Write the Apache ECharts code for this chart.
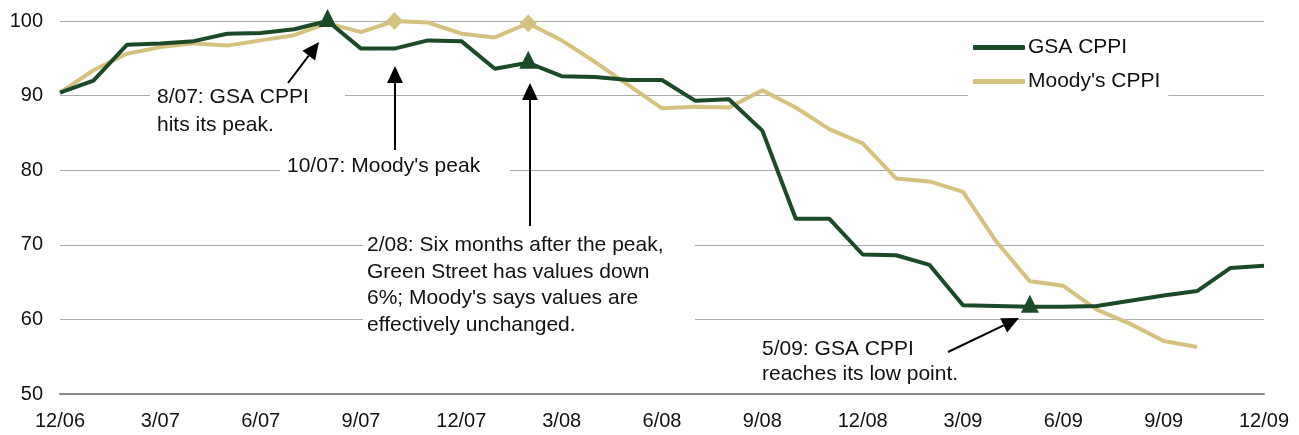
<!DOCTYPE html>
<html>
<head>
<meta charset="utf-8">
<script src="https://cdn.jsdelivr.net/npm/echarts@6/dist/echarts.min.js"></script>
<style>
html,body{margin:0;padding:0;background:#fff;}
#c{width:1299px;height:435px;}
</style>
</head>
<body>
<div id="c"></div>
<script>
const months = ['12/06','1/07','2/07','3/07','4/07','5/07','6/07','7/07','8/07','9/07','10/07','11/07',
  '12/07','1/08','2/08','3/08','4/08','5/08','6/08','7/08','8/08','9/08','10/08','11/08',
  '12/08','1/09','2/09','3/09','4/09','5/09','6/09','7/09','8/09','9/09','10/09','11/09','12/09'];
const gsaCPPI = [90.4,92.0,96.8,97.0,97.3,98.3,98.4,98.9,100.0,96.3,96.3,97.4,
  97.3,93.6,94.4,92.6,92.5,92.1,92.1,89.3,89.5,85.3,73.5,73.5,
  68.7,68.6,67.3,61.9,61.8,61.7,61.7,61.8,62.5,63.2,63.8,66.9,67.2];
const moodysCPPI = [90.4,93.4,95.6,96.5,97.0,96.7,97.4,98.1,99.7,98.5,100.0,99.8,
  98.3,97.8,99.7,97.4,94.5,91.4,88.3,88.5,88.4,90.7,88.4,85.5,
  83.6,78.9,78.5,77.1,70.4,65.1,64.5,61.3,59.4,57.1,56.3,null,null];
const yTicks = {min:50, max:100, interval:10};
const gsaMarks = [8, 14, 29];     // month indexes with triangle markers
const moodysMarks = [10, 14];     // month indexes with diamond markers

const GREEN = '#1b4a29';
const TAN = '#d6c27f';
const FONT = 'Liberation Sans, Arial, sans-serif';

const chart = echarts.init(document.getElementById('c'));

function arrow(x1,y1,x2,y2){
  const ang = Math.atan2(y2-y1, x2-x1);
  const L = 17, W = 8;
  const bx = x2 - L*Math.cos(ang), by = y2 - L*Math.sin(ang);
  const px = -Math.sin(ang), py = Math.cos(ang);
  return [
    {type:'line', z:5, shape:{x1:x1,y1:y1,x2:bx,y2:by}, style:{stroke:'#000', lineWidth:2}},
    {type:'polygon', z:5, shape:{points:[[x2,y2],[bx+px*W,by+py*W],[bx-px*W,by-py*W]]}, style:{fill:'#000'}}
  ];
}
function box(x,y,w,h){
  return {type:'rect', z:1, shape:{x:x,y:y,width:w,height:h}, style:{fill:'#fff'}};
}
function txt(x,y,s,lh){
  return {type:'text', z:5, x:x, y:y, style:{text:s, font:'21px '+FONT, fill:'#111', lineHeight:lh}};
}

const graphics = [].concat(
  [box(150,84,195,58), box(280,154,230,26), box(363,232,332,106)],
  [txt(157,83,'8/07: GSA CPPI\nhits its peak.',28)],
  [txt(287,152,"10/07: Moody's peak",28)],
  [txt(367,232,"2/08: Six months after the peak,\nGreen Street has values down\n6%; Moody's says values are\neffectively unchanged.",26.5)],
  [txt(762,337,"5/09: GSA CPPI\nreaches its low point.",25)],
  arrow(288,83,319,42),
  arrow(395,150,395,66),
  arrow(530,226,530,83),
  arrow(948,352,1019,318)
);

chart.setOption({
  animation:false,
  backgroundColor:'#fff',
  textStyle:{fontFamily:FONT},
  grid:{left:60, right:35, top:21, bottom:41, containLabel:false},
  legend:{
    orient:'vertical', left:968, top:31,
    padding:[6,8,6,5], backgroundColor:'#fff',
    itemWidth:52, itemHeight:5, itemGap:13, icon:'roundRect',
    textStyle:{fontSize:21, color:'#111', fontFamily:FONT, padding:[0,0,0,-2]},
    data:['GSA CPPI',"Moody's CPPI"], z:4
  },
  xAxis:{
    type:'category', data:months, boundaryGap:false,
    axisLine:{lineStyle:{color:'#888', width:2}},
    axisTick:{show:false},
    axisLabel:{interval:2, fontSize:20, color:'#111', margin:17, fontFamily:FONT},
    splitLine:{show:false}
  },
  yAxis:{
    type:'value', min:yTicks.min, max:yTicks.max, interval:yTicks.interval,
    axisLine:{show:false}, axisTick:{show:false},
    axisLabel:{fontSize:20, color:'#111', margin:17, fontFamily:FONT},
    splitLine:{lineStyle:{color:'#aaa', width:1}}
  },
  series:[
    {name:"Moody's CPPI", type:'line', data:moodysCPPI, symbol:'none', z:2,
     lineStyle:{color:TAN, width:4}, itemStyle:{color:TAN},
     markPoint:{symbol:'diamond', symbolSize:[17,18], itemStyle:{color:TAN}, label:{show:false},
       data: moodysMarks.map(i=>({coord:[months[i], moodysCPPI[i]]}))}},
    {name:'GSA CPPI', type:'line', data:gsaCPPI, symbol:'none', z:3,
     lineStyle:{color:GREEN, width:4}, itemStyle:{color:GREEN},
     markPoint:{symbol:'triangle', symbolSize:[18,18], symbolOffset:[0,-3], itemStyle:{color:GREEN}, label:{show:false},
       data: gsaMarks.map(i=>({coord:[months[i], gsaCPPI[i]]}))}}
  ],
  graphic: graphics
});
</script>
</body>
</html>
